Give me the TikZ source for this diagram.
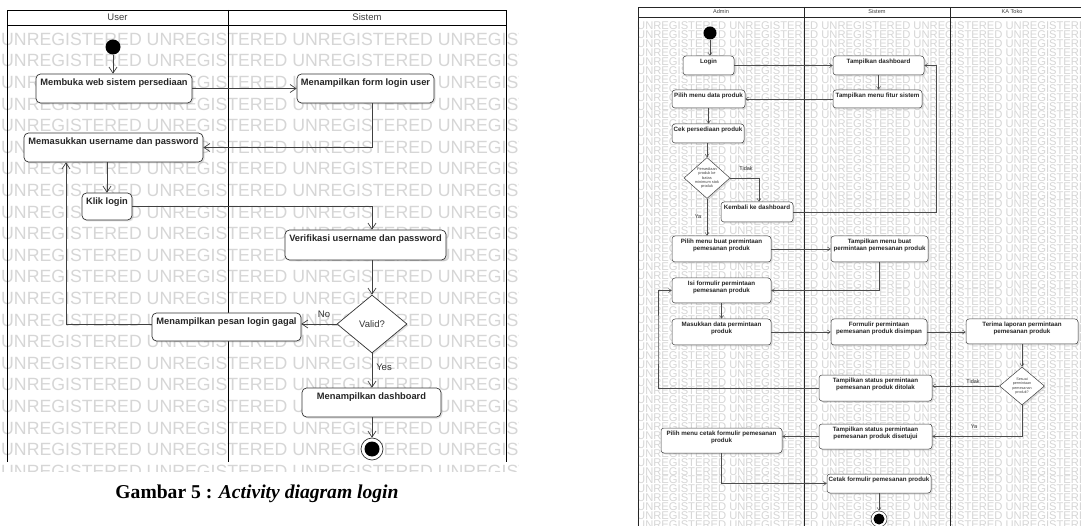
\documentclass[tikz,border=0pt]{standalone}
\usepackage{fontspec}
\setmainfont{Liberation Sans}
\newfontfamily\capfont{Liberation Serif}
\usetikzlibrary{shapes.geometric,shadows,arrows.meta}
\begin{document}
\begin{tikzpicture}[x=1pt,y=-1pt,
  wmL/.style={text=black!16, font=\fontsize{17.7}{18}\selectfont, anchor=base west, inner sep=0},
  wmR/.style={text=black!16, font=\fontsize{11.2}{12}\selectfont, anchor=base west, inner sep=0},
  lane/.style={draw=black, line width=0.9pt},
  laneR/.style={draw=black!85, line width=0.6pt},
  hdrL/.style={font=\fontsize{9.5}{10}\selectfont, text=black!75, inner sep=0},
  hdrR/.style={font=\fontsize{5.6}{6}\selectfont, text=black!75, inner sep=0},
  shd/.style={drop shadow={shadow xshift=1.5pt, shadow yshift=-1.5pt, fill=black!40, opacity=0.3}},
  boxL/.style={draw=black!80, fill=white, rounded corners=4.5pt, line width=0.7pt, inner sep=0, shd},
  boxR/.style={draw=black!75, fill=white, rounded corners=3pt, line width=0.5pt, inner sep=0, shd},
  txtL/.style={font=\bfseries\fontsize{9.3}{10}\selectfont, text=black!85, inner sep=0, anchor=north, yshift=-5pt},
  txtR/.style={font=\bfseries\fontsize{6.2}{6.4}\selectfont, text=black!85, inner sep=0, anchor=north, yshift=-3.5pt, align=center},
  decL/.style={draw=black!80, fill=white, diamond, line width=0.7pt, inner sep=0, shd},
  decR/.style={draw=black!75, fill=white, diamond, line width=0.5pt, inner sep=0, shd},
  lineL/.style={draw=black!75, line width=0.7pt, -{Straight Barb[length=6pt, width=8pt, line width=0.7pt]}},
  lineR/.style={draw=black!70, line width=0.45pt, -{Straight Barb[length=3pt, width=4pt, line width=0.45pt]}},
  lblL/.style={font=\fontsize{9.5}{10}\selectfont, text=black!80, inner sep=0},
  lblR/.style={font=\fontsize{5.5}{6}\selectfont, text=black!80, inner sep=0},
]
\newcommand\bxL[6]{\node[boxL, minimum width=#4pt-#2pt, minimum height=#5pt-#3pt, label={[txtL]north:{#6}}] (#1) at ({(#2+#4)/2},{(#3+#5)/2}) {};}
\newcommand\bxR[6]{\node[boxR, minimum width=#4pt-#2pt, minimum height=#5pt-#3pt, label={[txtR]north:{#6}}] (#1) at ({(#2+#4)/2},{(#3+#5)/2}) {};}

\useasboundingbox (0,0) rectangle (1081,526);
\fill[white] (0,0) rectangle (1081,526);

% ---------- watermarks ----------
\begin{scope}
\clip (0,10) rectangle (518,471.5);
\foreach \i in {0,...,20} \node[wmL] (wl\i) at (1,{45.3+21.6*\i}) {UNREGISTERED UNREGISTERED UNREGISTERED UNREGISTERED};
\end{scope}
\begin{scope}
\clip (635,7) rectangle (1081,526);
\foreach \i in {0,...,56} \node[wmR] (wr\i) at (637,{30+8.9*\i}) {UNREGISTERED UNREGISTERED UNREGISTERED UNREGISTERED UNREGISTERED};
\end{scope}

% ---------- left swimlanes ----------
\fill[white] (7,10) rectangle (506,25);
\draw[lane] (7,462) -- (7,10) -- (506,10) -- (506,462);
\draw[lane] (7,25) -- (506,25);
\draw[lane] (228,10) -- (228,462);
\node[hdrL] (hU) at (117.5,17.5) {User};
\node[hdrL] (hS) at (367,17.5) {Sistem};

% ---------- right swimlanes ----------
\fill[white] (638,7) rectangle (1081,17);
\draw[laneR] (638,526) -- (638,7) -- (1081,7);
\draw[laneR] (638,17) -- (1081,17);
\draw[laneR] (804,7) -- (804,526);
\draw[laneR] (950,7) -- (950,526);
\node[hdrR] (hA) at (721,12) {Admin};
\node[hdrR] (hS2) at (877,12) {Sistem};
\node[hdrR] (hK) at (1012,12) {KA Toko};

% ---------- left nodes ----------
\node[circle, fill=black, minimum size=15pt, inner sep=0] (sL) at (113,47) {};
\bxL{n1}{36}{74}{192}{103}{Membuka web sistem persediaan}
\bxL{n2}{297}{74}{434}{103}{Menampilkan form login user}
\bxL{n3}{24}{133}{203}{162}{Memasukkan username dan password}
\bxL{n4}{82}{193}{132}{220}{Klik login}
\bxL{n5}{285}{230}{446}{260}{Verifikasi username dan password}
\node[decL, minimum width=70pt, minimum height=58pt, label={[lblL]center:Valid?}] (d1) at (372,324) {};
\bxL{n6}{152}{313}{301}{341}{Menampilkan pesan login gagal}
\bxL{n7}{302}{388}{441}{417}{Menampilkan dashboard}
\node[circle, draw=black!80, line width=0.7pt, fill=white, minimum size=22pt, inner sep=0,
  path picture={\fill[black] (path picture bounding box.center) circle (7.5pt);}] (eL) at (372,449) {};
\coordinate (lp) at (66,0);
\node[lblL] (lNo) at (324,314) {No};
\node[lblL] (lYes) at (384,367) {Yes};

\draw[lineL] (sL) -- (sL |- n1.north);
\draw[lineL] (n1.east) -- (n2.west);
\draw[lineL] (n2.south -| d1) |- (n3.east);
\draw[lineL] (n3.south -| n4) -- (n4.north);
\draw[lineL] (n4.east) -| (n5.north -| d1);
\draw[lineL] (n5.south -| d1) -- (d1.north);
\draw[lineL] (d1.west) -- (d1.west -| n6.east);
\draw[lineL] (d1.west -| n6.west) -| (lp |- n3.south);
\draw[lineL] (d1.south) -- (d1.south |- n7.north);
\draw[lineL] (n7.south -| eL) -- (eL.north);

\node[font=\capfont\bfseries\fontsize{19.6}{22}\selectfont, inner sep=0] (cap) at (257,494) {Gambar 5 : \textit{Activity diagram login}};

% ---------- right nodes ----------
\node[circle, fill=black, minimum size=13pt, inner sep=0] (sR) at (710,33) {};
\bxR{r1}{683}{56}{734}{75}{Login}
\bxR{r2}{833}{56}{924}{75}{Tampilkan dashboard}
\bxR{r3}{833}{90}{922}{108}{Tampilkan menu fitur sistem}
\bxR{r4}{672}{90}{745}{108}{Pilih menu data produk}
\bxR{r5}{672}{124}{744}{143}{Cek persediaan produk}
\node[decR, minimum width=46pt, minimum height=41pt,
  label={[font=\fontsize{3.9}{4.4}\selectfont, text=black!75, align=center, inner sep=0]center:{Persediaan\\produk ke\\batas\\minimum stok\\produk}}] (rd1) at (707,178) {};
\bxR{r6}{721}{202}{793}{222}{Kembali ke dashboard}
\bxR{r7}{672}{236}{771}{262}{Pilih menu buat permintaan\\pemesanan produk}
\bxR{r8}{831}{236}{928}{262}{Tampilkan menu buat\\permintaan pemesanan produk}
\bxR{r9}{672}{278}{771}{303}{Isi formulir permintaan\\pemesanan produk}
\bxR{r10}{672}{319}{771}{345}{Masukkan data permintaan\\produk}
\bxR{r11}{831}{319}{927}{345}{Formulir permintaan\\pemesanan produk disimpan}
\bxR{r12}{966}{319}{1078}{344}{Terima laporan permintaan\\pemesanan produk}
\node[decR, minimum width=45pt, minimum height=38pt,
  label={[font=\fontsize{3.7}{4.2}\selectfont, text=black!75, align=center, inner sep=0]center:{Sesuai\\permintaan\\pemesanan\\produk?}}] (rd2) at (1022,386) {};
\bxR{r13}{819}{375}{932}{401}{Tampilkan status permintaan\\pemesanan produk ditolak}
\bxR{r14}{819}{424}{932}{449}{Tampilkan status permintaan\\pemesanan produk disetujui}
\bxR{r15}{661}{428}{782}{453}{Pilih menu cetak formulir pemesanan\\produk}
\bxR{r16}{827}{474}{931}{493}{Cetak formulir pemesanan produk}
\node[circle, draw=black!80, line width=0.5pt, fill=white, minimum size=16pt, inner sep=0,
  path picture={\fill[black] (path picture bounding box.center) circle (5.5pt);}] (eR) at (879,519) {};
\coordinate (k1) at (759,0);
\coordinate (k2) at (936,150);
\coordinate (k3) at (658,340);
\node[lblR] (lT1) at (746,169) {Tidak};
\node[lblR] (lY1) at (698,217) {Ya};
\node[lblR] (lT2) at (973,382) {Tidak};
\node[lblR] (lY2) at (974,427) {Ya};

\draw[lineR] (sR) -- (sR |- r1.north);
\draw[lineR] (r1.east) -- (r1.east -| r2.west);
\draw[lineR] (r2.south) -- (r2.south |- r3.north);
\draw[lineR] (r3.west) -- (r3.west -| r4.east);
\draw[lineR] (r4.south) -- (r4.south |- r5.north);
\draw[lineR] (r5.south -| rd1) -- (rd1.north);
\draw[lineR] (rd1.east) -| (k1 |- r6.north);
\draw[lineR] (r6.east) -| (k2) |- (r2.east);
\draw[lineR] (rd1.south) -- (rd1.south |- r7.north);
\draw[lineR] (r7.east) -- (r7.east -| r8.west);
\draw[lineR] (r8.south) |- (r9.east);
\draw[lineR] (r9.south) -- (r9.south |- r10.north);
\draw[lineR] (r10.east) -- (r10.east -| r11.west);
\draw[lineR] (r11.east) -- (r11.east -| r12.west);
\draw[lineR] (r12.south) -- (r12.south |- rd2.north);
\draw[lineR] (rd2.west) -- (rd2.west -| r13.east);
\draw[lineR] (r13.west) -| (k3) |- (r9.west);
\draw[lineR] (rd2.south) |- (r14.east);
\draw[lineR] (r14.west) -- (r14.west -| r15.east);
\draw[lineR] (r15.south) |- (r16.west);
\draw[lineR] (r16.south) -- (eR.north);
\end{tikzpicture}
\end{document}
